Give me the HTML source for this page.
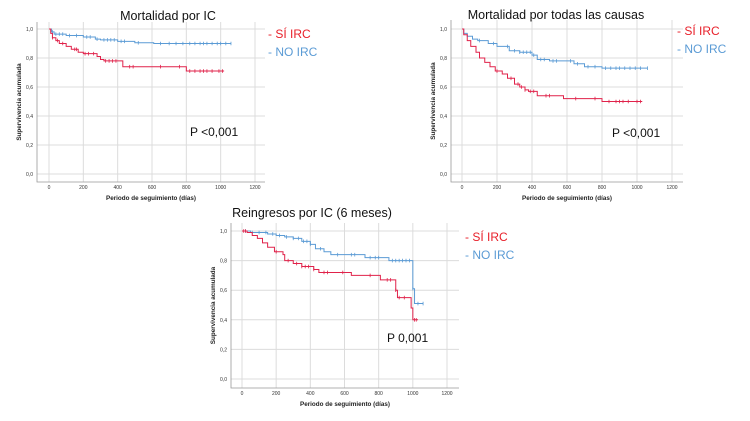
<!DOCTYPE html>
<html><head><meta charset="utf-8"><style>
html,body{margin:0;padding:0;background:#fff;width:750px;height:421px;overflow:hidden}
svg{display:block}
</style></head><body>
<svg id="s" width="750" height="421" xmlns="http://www.w3.org/2000/svg"></svg>
<script>
// ---- data ----
const xTicks = [0,200,400,600,800,1000,1200];
const yTicks = [0,0.2,0.4,0.6,0.8,1.0];
const yTickLabels = ["0,0","0,2","0,4","0,6","0,8","1,0"];
const titles = ["Mortalidad por IC","Mortalidad por todas las causas","Reingresos por IC (6 meses)"];
const pLabels = ["P <0,001","P <0,001","P 0,001"];

const c1Si = [[0,1],[10,0.97],[20,0.94],[40,0.92],[60,0.9],[100,0.88],[130,0.86],[170,0.84],[200,0.83],[280,0.81],[300,0.79],[320,0.78],[430,0.74],[800,0.71],[1020,0.71]];
const c1No = [[0,1],[15,0.98],[30,0.965],[100,0.955],[200,0.945],[270,0.93],[300,0.925],[400,0.915],[500,0.905],[610,0.9],[1060,0.9]];
const c1SiCens = [20,50,80,150,160,210,230,260,330,350,370,390,470,490,650,760,820,850,880,900,920,950,990,1010];
const c1NoCens = [20,40,60,80,120,160,220,240,280,320,340,360,380,420,440,520,650,700,740,780,820,850,880,900,920,950,980,1000,1030,1060];

const c2Si = [[0,1],[10,0.96],[30,0.92],[50,0.88],[80,0.84],[100,0.8],[130,0.77],[160,0.74],[190,0.71],[230,0.69],[260,0.66],[300,0.62],[330,0.6],[360,0.58],[380,0.57],[430,0.54],[580,0.52],[800,0.5],[1030,0.5]];
const c2No = [[0,1],[10,0.97],[30,0.95],[60,0.93],[90,0.92],[150,0.9],[200,0.88],[270,0.85],[330,0.84],[400,0.82],[430,0.79],[500,0.78],[640,0.76],[700,0.74],[800,0.73],[1060,0.73]];
const c2SiCens = [200,280,320,340,360,390,410,480,500,650,760,840,880,900,920,950,1000,1020];
const c2NoCens = [100,180,260,300,330,350,370,390,410,450,470,520,540,620,660,720,760,820,850,880,900,930,960,990,1020,1060];

const c3Si = [[0,1],[30,0.99],[60,0.97],[90,0.95],[120,0.92],[150,0.89],[190,0.86],[240,0.84],[250,0.8],[300,0.78],[350,0.76],[420,0.74],[450,0.72],[640,0.7],[810,0.67],[900,0.6],[910,0.55],[990,0.48],[1000,0.4],[1030,0.4]];
const c3No = [[0,1],[50,0.99],[150,0.98],[200,0.97],[250,0.96],[300,0.95],[350,0.93],[400,0.91],[430,0.88],[480,0.86],[520,0.84],[720,0.82],[860,0.8],[1000,0.61],[1010,0.51],[1060,0.51]];
const c3SiCens = [10,20,200,270,320,350,370,390,420,480,500,590,750,850,870,900,920,950,1010,1020];
const c3NoCens = [20,60,100,140,180,220,260,300,330,360,380,400,460,560,640,660,750,780,800,880,900,920,940,960,980,1000,1030,1060];

// ---- layout ----
const charts = [
  {x0:49,x1:255,yTop:29,yBot:174,boxL:37,boxR:265,boxT:22,axisB:182,titleX:168,titleY:20,legX:268,legY:38,pX:190,pY:136,si:c1Si,no:c1No,siC:c1SiCens,noC:c1NoCens},
  {x0:462,x1:672,yTop:29,yBot:174,boxL:451,boxR:683,boxT:20,axisB:182,titleX:556,titleY:19,legX:677,legY:35,pX:612,pY:137,si:c2Si,no:c2No,siC:c2SiCens,noC:c2NoCens},
  {x0:242,x1:447,yTop:231,yBot:379,boxL:231,boxR:459,boxT:223,axisB:388,titleX:312,titleY:217,legX:465,legY:241,pX:387,pY:342,si:c3Si,no:c3No,siC:c3SiCens,noC:c3NoCens}
];
const NS="http://www.w3.org/2000/svg";
const svg=document.getElementById('s');
function mk(t,a,p){const e=document.createElementNS(NS,t);for(const k in a)e.setAttribute(k,a[k]);(p||svg).appendChild(e);return e;}
function survAt(steps,t){let v=1;for(const s of steps){if(s[0]<=t)v=s[1];}return v;}

charts.forEach((c,i)=>{
  const g=mk('g',{});
  
  
  const X=t=>c.x0+(c.x1-c.x0)*t/1200;
  const Y=v=>c.yBot+(c.yTop-c.yBot)*v;
  // grid
  xTicks.forEach(t=>{const l=mk('line',{x1:X(t),x2:X(t),y1:c.boxT,y2:c.axisB,stroke:'#dcdcdc','stroke-width':1},g);
    
    const tx=mk('text',{x:X(t),y:c.axisB+7,'font-size':5,'text-anchor':'middle',fill:'#333','font-family':'Liberation Sans, sans-serif'},g);tx.textContent=t;
    });
  yTicks.forEach((v,j)=>{const l=mk('line',{x1:c.boxL,x2:c.boxR,y1:Y(v),y2:Y(v),stroke:'#dcdcdc','stroke-width':1},g);
    
    const tx=mk('text',{x:c.boxL-4,y:Y(v)+2,'font-size':5,'text-anchor':'end',fill:'#333','font-family':'Liberation Sans, sans-serif'},g);tx.textContent=yTickLabels[j];
    });
  const ax=mk('path',{d:`M${c.boxL},${c.boxT}V${c.axisB}H${c.boxR}`,stroke:'#999',fill:'none','stroke-width':0.8},g);
  
  // titles
  const xt=mk('text',{x:(c.boxL+c.boxR)/2,y:c.axisB+18,'font-size':6.3,'font-weight':'bold','text-anchor':'middle',fill:'#222','font-family':'Liberation Sans, sans-serif'},g);
  xt.textContent='Periodo de seguimiento (días)';
  const ym=(c.boxT+c.axisB)/2, yx=c.boxL-16;
  const yt=mk('text',{x:yx,y:ym,'font-size':6.3,'font-weight':'bold','text-anchor':'middle',fill:'#222','font-family':'Liberation Sans, sans-serif',transform:`rotate(-90 ${yx} ${ym})`},g);
  yt.textContent='Supervivencia acumulada';
  const tt=mk('text',{x:c.titleX,y:c.titleY,'font-size':12.5,'text-anchor':'middle',fill:'#111','font-family':'Liberation Sans, sans-serif'},g);
  tt.textContent=titles[i];
  const pt=mk('text',{x:c.pX,y:c.pY,'font-size':12,fill:'#111','font-family':'Liberation Sans, sans-serif'},g);
  pt.textContent=pLabels[i];
  // legend
  const l1=mk('text',{x:c.legX,y:c.legY,'font-size':12,fill:'#e8202a','font-family':'Liberation Sans, sans-serif'},g);
  l1.textContent='- SÍ IRC';
  const l2=mk('text',{x:c.legX,y:c.legY+18,'font-size':12,fill:'#5b9bd5','font-family':'Liberation Sans, sans-serif'},g);
  l2.textContent='- NO IRC';
  // series
  [[c.no,c.noC,'#5b9bd5','no-irc'],[c.si,c.siC,'#e0224a','si-irc']].forEach(([st,ce,col,nm])=>{
    let d=`M${X(st[0][0])},${Y(st[0][1])}`;
    for(let k=1;k<st.length;k++){d+=`H${X(st[k][0])}V${Y(st[k][1])}`;}
    const p=mk('path',{d,stroke:col,fill:'none','stroke-width':1},g);
    
    ce.forEach(t=>{const v=survAt(st,t);
      const m=mk('line',{x1:X(t),x2:X(t),y1:Y(v)-1.8,y2:Y(v)+1.8,stroke:col,'stroke-width':0.8},g);
      });
  });
});
</script>
</body></html>
